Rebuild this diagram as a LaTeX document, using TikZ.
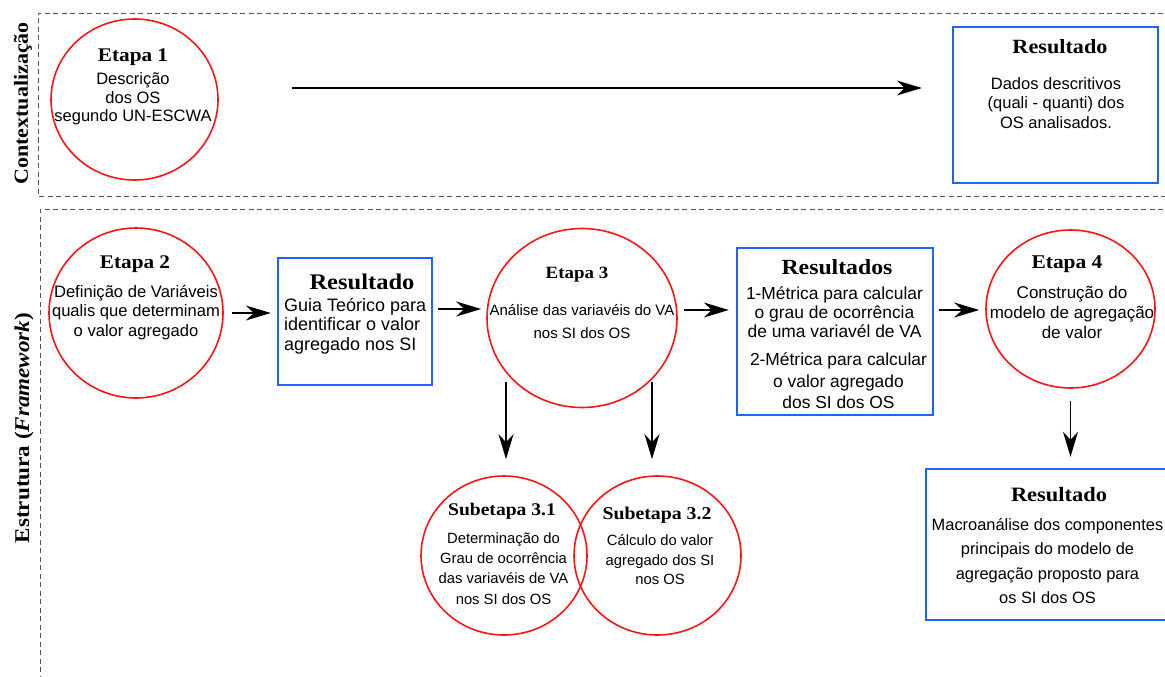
\documentclass[tikz,border=0pt]{standalone}
\usepackage{fontspec}
\usetikzlibrary{arrows.meta,shapes.geometric}
\newfontfamily\sansf{Liberation Sans}
\newfontfamily\serf{Liberation Serif}[FakeStretch=1.1]
\newcommand\setfs[2]{\fontsize{#1}{#2}\selectfont}
\definecolor{stagered}{RGB}{250,20,20}
\definecolor{resblue}{RGB}{30,100,255}
\definecolor{framegray}{RGB}{85,85,85}
\begin{document}
\begin{tikzpicture}[x=1pt,y=-1pt,
  stage/.style={ellipse,draw=stagered,line width=1.6pt,inner sep=0pt},
  resbox/.style={rectangle,draw=resblue,line width=2.4pt,inner sep=0pt},
  ttl/.style={inner sep=0pt,anchor=base,font=\serf\bfseries\setfs{#1}{24}},
  body/.style 2 args={inner sep=0pt,align=center,font=\sansf\setfs{#1}{#2}},
  frame/.style={draw=framegray,line width=0.9pt,dash pattern=on 5pt off 3.5pt},
  arr/.style={line width=1.5pt,-{Stealth[length=25pt,width=15pt,inset=8pt]}},
  side/.style={inner sep=0pt,rotate=90,font=\serf\bfseries\setfs{#1}{24}}]
\useasboundingbox (0,0) rectangle (1165,677);
\clip (0,0) rectangle (1165,677);

% dashed frames of the two phases
\draw[frame] (1180,13) -- (38,13) -- (38,196) -- (1180,196);
\draw[frame] (1180,209) -- (40,209) -- (40,690);
\node[side=20] (lctx) at (23,103.5) {Contextualização};
\node[side=21] (lstr) at (24,428) {Estrutura (\textit{Framework})};

% contextualisation row
\node[stage,minimum width=167pt,minimum height=161pt] (e1) at (134.5,99.5) {};
\node[ttl=19.3] (e1t) at (133,61.5) {Etapa 1};
\node[body={16.5}{18.5}] (e1b) at (133,99) {Descrição\\dos OS\\segundo UN-ESCWA};

\node[resbox,minimum width=205pt,minimum height=156pt] (r1) at (1055.5,105) {};
\node[ttl=20.2] (r1t) at (1060,53.5) {Resultado};
\node[body={16.5}{19.5}] (r1b) at (1056,103) {Dados descritivos\\(quali - quanti) dos\\OS analisados.};

% framework row
\node[stage,minimum width=174pt,minimum height=170pt] (e2) at (136,313) {};
\node[ttl=19.3] (e2t) at (135,268.5) {Etapa 2};
\node[body={16.6}{19.5}] (e2b) at (136,312.5) {Definição de Variáveis\\qualis que determinam\\o valor agregado};

\node[resbox,minimum width=154pt,minimum height=127pt] (r2) at (355,321.5) {};
\node[ttl=22.3] (r2t) at (362,289.5) {Resultado};
\node[body={18}{19.5},align=left,anchor=west] (r2b) at (284,326) {Guia Teórico para\\identificar o valor\\agregado nos SI};

\node[stage,minimum width=190pt,minimum height=179pt] (e3) at (582,318) {};
\node[ttl=17.2] (e3t) at (577,278.8) {Etapa 3};
\node[body={15}{23}] (e3b) at (582,322) {Análise das variavéis do VA\\nos SI dos OS};

\node[resbox,minimum width=196pt,minimum height=167pt] (r4) at (835,331.5) {};
\node[ttl=21.6] (r4t) at (837,274.2) {Resultados};
\node[body={17.4}{19}] (r4a) at (834.5,312.5) {1-Métrica para calcular\\o grau de ocorrência\\de uma variavél de VA};
\node[body={17.4}{21.5}] (r4c) at (838.5,381) {2-Métrica para calcular\\o valor agregado\\dos SI dos OS};

\node[stage,minimum width=169pt,minimum height=158pt] (e4) at (1070.5,309) {};
\node[ttl=19.5] (e4t) at (1067,268.5) {Etapa 4};
\node[body={17}{20}] (e4b) at (1072,312.5) {Construção do\\modelo de agregação\\de valor};

\node[resbox,minimum width=270pt,minimum height=151pt] (r3) at (1061,544.5) {};
\node[ttl=20.4] (r3t) at (1059,501.5) {Resultado};
\node[body={16.4}{24.3}] (r3b) at (1047.5,561) {Macroanálise dos componentes\\principais do modelo de\\agregação proposto para\\os SI dos OS};

\node[stage,minimum width=166pt,minimum height=159pt] (s31) at (504,555.5) {};
\node[stage,minimum width=167pt,minimum height=159pt] (s32) at (657.5,555.5) {};
\node[ttl=17.8] (s31t) at (502,515) {Subetapa 3.1};
\node[body={14.8}{20.3}] (s31b) at (503.5,568.5) {Determinação do\\Grau de ocorrência\\das variavéis de VA\\nos SI dos OS};
\node[ttl=18] (s32t) at (657,519) {Subetapa 3.2};
\node[body={14.8}{19.5}] (s32b) at (660,560) {Cálculo do valor\\agregado dos SI\\nos OS};

% connectors
\draw[arr,shorten <=73pt,shorten >=30pt] (e1.east |- 0,88) -- (r1.west |- 0,88);
\draw[arr,shorten <=8pt,shorten >=6pt] (e2.east) -- (r2.west |- e2.east);
\draw[arr,shorten <=5pt,shorten >=5pt] (r2.east |- 0,309) -- (e3.west |- 0,309);
\draw[arr,shorten <=6pt,shorten >=7pt] (e3.east |- 0,310) -- (r4.west |- 0,310);
\draw[arr,shorten <=5pt,shorten >=6pt] (r4.east |- 0,310) -- (e4.west |- 0,310);
\draw[arr,shorten <=12pt,shorten >=11pt] (e4.south) -- (r3.north -| e4.south);
\coordinate (d31) at (506,382);
\coordinate (d32) at (652,382);
\draw[arr,shorten >=16pt] (d31) -- (s31.north -| d31);
\draw[arr,shorten >=16pt] (d32) -- (s32.north -| d32);
\end{tikzpicture}
\end{document}
